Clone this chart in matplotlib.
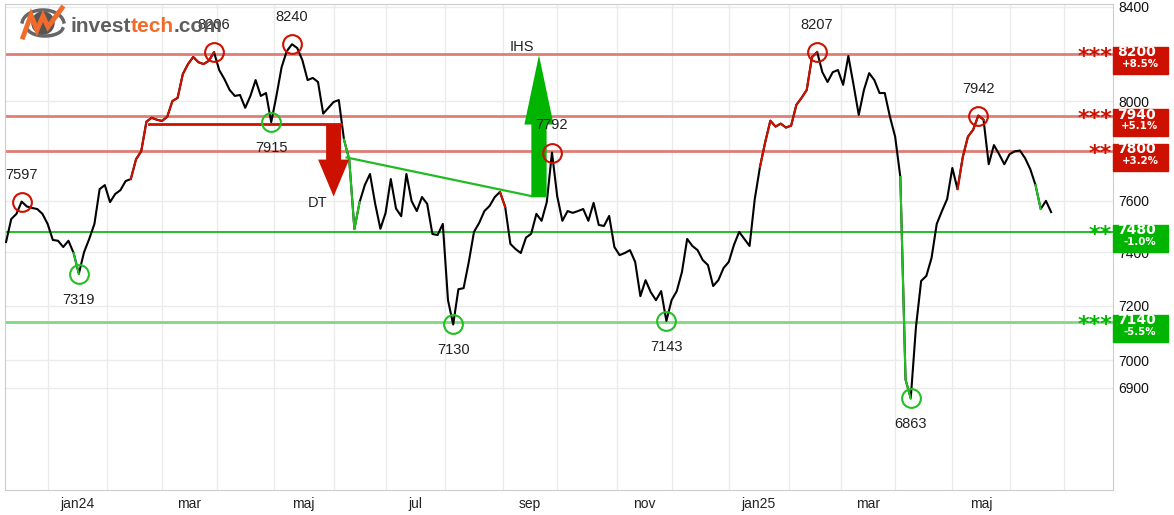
import numpy as np
import pandas as pd
import matplotlib
matplotlib.use('Agg')
import matplotlib.pyplot as plt
from matplotlib.patches import Rectangle, Ellipse
from matplotlib.ticker import NullLocator

plt.rcParams['font.family'] = ['Liberation Sans', 'DejaVu Sans']

# closing prices, one sample every second trading day from start_day
start_day = '2023-12-08'
step = 2
close = [7440, 7529, 7549, 7597, 7578, 7572, 7568, 7549, 7510, 7448,
         7445, 7421, 7445, 7398, 7319, 7401, 7452, 7510, 7646, 7662,
         7595, 7627, 7642, 7678, 7686, 7765, 7797, 7917, 7933, 7925,
         7920, 7937, 8002, 8015, 8114, 8156, 8186, 8164, 8156, 8170,
         8206, 8131, 8093, 8048, 8023, 8027, 7974, 8023, 8089, 8023,
         8035, 7915, 8023, 8143, 8211, 8240, 8224, 8172, 8089, 8098,
         8081, 7950, 7974, 7998, 8006, 7844, 7765, 7490, 7595, 7662,
         7706, 7588, 7491, 7553, 7686, 7570, 7540, 7706, 7599, 7560,
         7615, 7588, 7471, 7467, 7510, 7220, 7130, 7261, 7265, 7364,
         7479, 7514, 7560, 7580, 7615, 7635, 7576, 7433, 7413, 7398,
         7457, 7472, 7549, 7522, 7595, 7792, 7619, 7522, 7560, 7553,
         7560, 7568, 7522, 7592, 7506, 7502, 7541, 7421, 7390, 7398,
         7409, 7364, 7235, 7295, 7250, 7220, 7254, 7143, 7220, 7254,
         7326, 7452, 7425, 7409, 7371, 7352, 7273, 7295, 7341, 7364,
         7429, 7479, 7452, 7425, 7607, 7734, 7833, 7921, 7897, 7909,
         7893, 7901, 7986, 8015, 8048, 8185, 8207, 8122, 8081, 8122,
         8131, 8069, 8190, 8069, 7945, 8048, 8118, 8089, 8035, 8035,
         7937, 7856, 7694, 6930, 6863, 7120, 7292, 7311, 7379, 7510,
         7560, 7607, 7730, 7646, 7773, 7856, 7884, 7942, 7925, 7745,
         7822, 7785, 7745, 7785, 7797, 7800, 7769, 7725, 7662, 7568,
         7600, 7556]

# signal periods (sample index ranges)
red_spans = [(24, 40), (95, 96), (145, 156), (183, 188)]
green_spans = [(13, 14), (65, 68), (172, 174), (198, 199)]

# marked tops / bottoms (sample index)
tops = [3, 40, 55, 105, 156, 187]
bottoms = [14, 51, 86, 127, 174]

# support / resistance
levels = [8200, 7940, 7800, 7480, 7140]
level_pct = ['+8.5%', '+5.1%', '+3.2%', '-1.0%', '-5.5%']
level_stars = ['***', '***', '**', '**', '***']
level_up = [True, True, True, False, False]

# double top (trading day numbers)
dt_neck = (55, 129)
dt_level = 7907
dt_day = 126
dt_target = 7617
# inverse head and shoulders
ihs_neck_days = (131, 202)
ihs_neck_vals = (7772, 7619)
ihs_day = 205
ihs_base = 7614
ihs_target = 8194

y_ticks = [6900, 7000, 7200, 7400, 7600, 7800, 8000, 8200, 8400]
months = ['jan', 'feb', 'mar', 'apr', 'maj', 'jun', 'jul', 'aug', 'sep', 'okt', 'nov', 'dec']

RED = '#cc1100'
GREEN = '#00b400'
LRED = '#e07e76'
LGREEN = '#80d880'

close = np.array(close)
days = np.arange(len(close)) * step
bdays = pd.bdate_range(start_day, periods=440)

fig = plt.figure(figsize=(11.74, 5.15), dpi=100)
ax = fig.add_axes([5 / 1174, 25 / 515, 1108 / 1174, 486 / 515])
ax.set_yscale('log')
ax.set_xlim(-0.4, 425.8)
ax.set_ylim(6546, 8413)

# month grid and labels
mon = bdays.month
starts = [i for i in range(1, len(bdays)) if mon[i] != mon[i - 1]]
starts = [s for s in starts if s < 426]
mids, labs = [], []
for a, b in zip(starts[:-1], starts[1:]):
    m = mon[a]
    if m % 2 == 1:
        mids.append((a + b) / 2)
        lab = months[m - 1]
        if m == 1:
            lab += bdays[a].strftime('%y')
        labs.append(lab)
ax.set_xticks(starts)
ax.set_xticklabels([])
ax.set_xticks(mids, minor=True)
ax.set_xticklabels(labs, minor=True, fontsize=10, color='#222222')

# labels hidden behind the level boxes are left blank
ax.yaxis.tick_right()
ax.set_yticks(y_ticks)
ax.set_yticklabels(['' if t in (8200, 7800) else str(t) for t in y_ticks],
                   fontsize=10, color='#111111')
ax.yaxis.set_minor_locator(NullLocator())
ax.tick_params(which='both', length=0)
ax.tick_params(axis='x', which='minor', pad=5)
ax.tick_params(axis='y', pad=4)
ax.grid(True, which='major', color='#ebebeb', lw=1)
ax.set_axisbelow(True)
for s in ax.spines.values():
    s.set_color('#cccccc')

# levels
for lv, up in zip(levels, level_up):
    if up:
        ax.axhline(lv, color=LRED, lw=2, zorder=2)
    elif lv == levels[3]:
        ax.axhline(lv, color=GREEN, lw=1.2, zorder=2)
    else:
        ax.axhline(lv, color=LGREEN, lw=2, zorder=2)

# price
ax.plot(days, close, color='black', lw=1.5, zorder=3)
for a, b in red_spans:
    ax.plot(days[a:b + 1], close[a:b + 1], color=RED, lw=1.5, zorder=4)
for a, b in green_spans:
    ax.plot(days[a:b + 1], close[a:b + 1], color='#22c022', lw=1.5, zorder=4)

# patterns
ax.plot(dt_neck, [dt_level, dt_level], color=RED, lw=2, zorder=4)
ax.annotate('', xy=(dt_day, dt_target), xytext=(dt_day, dt_level),
            arrowprops=dict(arrowstyle='simple,head_length=26.6,head_width=22.3,tail_width=10.8',
                            mutation_scale=1, fc=RED, ec='none', shrinkA=0, shrinkB=0), zorder=5)
ax.annotate('DT', (dt_day, dt_target), xytext=(-11.5, -4.5), textcoords='offset points',
            ha='center', va='center', fontsize=10.5, color='#222222')
ax.plot(ihs_neck_days, ihs_neck_vals, color='#22bb22', lw=1.6, zorder=4)
ax.annotate('', xy=(ihs_day, ihs_target), xytext=(ihs_day, ihs_base),
            arrowprops=dict(arrowstyle='simple,head_length=50,head_width=21,tail_width=11',
                            mutation_scale=1, fc=GREEN, ec='none', shrinkA=0, shrinkB=0), zorder=5)
ax.annotate('IHS', (ihs_day, ihs_target), xytext=(-12, 6), textcoords='offset points',
            ha='center', va='center', fontsize=10.5, color='#222222')

# tops and bottoms
for i in tops:
    ax.plot(days[i], close[i], 'o', ms=13.5, mfc='none', mec=RED, mew=1.5, zorder=6)
    ax.annotate(str(close[i]), (days[i], close[i]), xytext=(0, 19.5), textcoords='offset points',
                ha='center', va='center', fontsize=10.5, color='#222222', zorder=7)
for i in bottoms:
    ax.plot(days[i], close[i], 'o', ms=13.5, mfc='none', mec='#22c022', mew=1.5, zorder=6)
    ax.annotate(str(close[i]), (days[i], close[i]), xytext=(0, -18.5), textcoords='offset points',
                ha='center', va='center', fontsize=10.5, color='#222222', zorder=7)

# right side level boxes
h_ax = 486.0
w_ax = 1108.0
for lv, pct, st, up in zip(levels, level_pct, level_stars, level_up):
    c = RED if up else GREEN
    f = ax.transAxes.inverted().transform(ax.transData.transform((0, lv)))[1]
    ax.add_patch(Rectangle((1.0, f - 20 / h_ax), 55 / w_ax, 27 / h_ax, transform=ax.transAxes,
                           color=c, clip_on=False, zorder=8))
    ax.text(1.0 + 23 / w_ax, f + 1.5 / h_ax, str(lv), transform=ax.transAxes, ha='center', va='center',
            fontsize=10, fontweight='bold', color='white', family='DejaVu Sans', zorder=9)
    ax.text(1.0 + 27 / w_ax, f - 10 / h_ax, pct, transform=ax.transAxes, ha='center', va='center',
            fontsize=7.4, fontweight='bold', color='white', family='DejaVu Sans', zorder=9)
    ax.annotate(st, (1.0, lv), xycoords=('axes fraction', 'data'), xytext=(-0.5, -6.5),
                textcoords='offset points', ha='right', va='baseline', fontsize=16,
                fontweight='bold', color=c, family='DejaVu Sans', zorder=9, annotation_clip=False)

# logo
def px(x, y):
    return x / 1174, 1 - y / 515

fig.patches.append(Ellipse(px(43, 23), 22 / 1174, 22 / 515, transform=fig.transFigure,
                           color='#555555', zorder=10))
t = np.linspace(0.15, np.pi - 0.15, 40)
xs = 43 - 21 * np.cos(t)
ys = 24 - 14 * np.sin(t)
fig.lines.append(plt.Line2D(xs / 1174, 1 - ys / 515, transform=fig.transFigure, color='#666666',
                            lw=2.5, zorder=10))
t2 = np.linspace(0.2, np.pi - 0.4, 30)
xs2 = 45 + 18 * np.cos(t2)
ys2 = 27 + 9 * np.sin(t2)
fig.lines.append(plt.Line2D(xs2 / 1174, 1 - ys2 / 515, transform=fig.transFigure, color='#666666',
                            lw=2.5, zorder=10))
zx = np.array([23, 31, 37, 43, 48, 62])
zy = np.array([37, 15, 30, 16, 27, 8])
fig.lines.append(plt.Line2D(zx / 1174, 1 - zy / 515, transform=fig.transFigure, color='#f26b2a',
                            lw=3.5, zorder=11, solid_joinstyle='miter'))
t1 = fig.text(70 / 1174, 1 - 32 / 515, 'invest', fontsize=15, fontweight='bold', color='#5f5f5f',
              ha='left', va='baseline', zorder=12)
t2 = ax.annotate('tech', xy=(1, 0), xycoords=t1, ha='left', va='bottom', fontsize=15,
                 fontweight='bold', color='#f26b2a', annotation_clip=False, zorder=12)
t3 = ax.annotate('.com', xy=(1, 0), xycoords=t2, ha='left', va='bottom', fontsize=15,
                 fontweight='bold', color='#5f5f5f', annotation_clip=False, zorder=12)

fig.savefig('out.png', dpi=100)
